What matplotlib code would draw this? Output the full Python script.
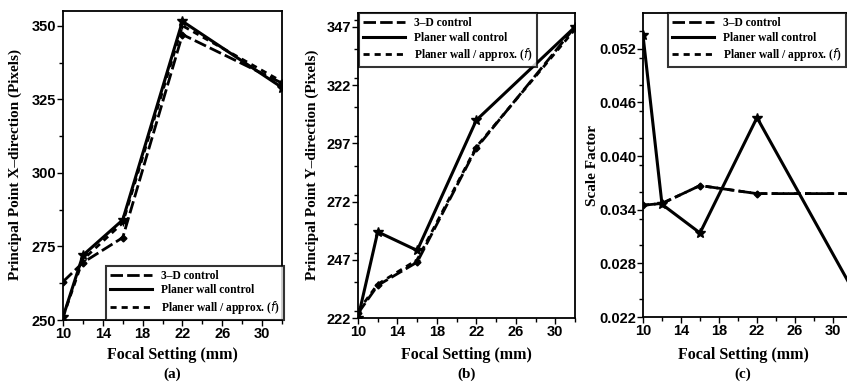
import numpy as np
import matplotlib
matplotlib.use("Agg")
import matplotlib.pyplot as plt
from matplotlib.ticker import MultipleLocator, FixedLocator

# focal settings (mm)
focal = [10, 12, 16, 22, 32]

# (a) principal point x-direction (pixels)
px_3d = [263, 269.5, 278, 347, 330.5]
px_wall = [251, 272, 284, 351.5, 329]
px_approx = [251, 270.5, 283, 350, 331]

# (b) principal point y-direction (pixels)
py_3d = [224, 236, 246, 295, 347]
py_wall = [222, 259, 251, 307, 347]
py_approx = [225, 236.5, 247, 295.5, 346]

# (c) scale factor
sf_3d = [0.0345, 0.0347, 0.0367, 0.0358, 0.0358]
sf_wall = [0.0535, 0.0346, 0.0314, 0.0443, 0.0252]
sf_approx = [0.0345, 0.0347, 0.0367, 0.0358, 0.0358]

labels = ["3\u2013D control", "Planer wall control", "Planer wall / approx. ($f$)"]
xticks = [10, 14, 18, 22, 26, 30]

serif = ["Liberation Serif", "DejaVu Serif"]
narrow = ["Liberation Sans Narrow", "Liberation Sans", "DejaVu Sans"]

W, H = 847, 386
fig = plt.figure(figsize=(W / 100, H / 100), dpi=100)


def box(l, t, r, b):
    return [l / W, 1 - b / H, (r - l) / W, (b - t) / H]


# legend anchors in figure pixels (corner, loc)
panels = [
    dict(pos=box(63, 11, 282, 320), ys=(px_3d, px_wall, px_approx), ylim=(250, 355),
         yt=[250, 275, 300, 325, 350], ystep=12.5, fmt="{:d}",
         ylabel="Principal Point X\u2013direction (Pixels)",
         leg=("lower right", (284, 320)), tag="(a)", lab_x=15),
    dict(pos=box(358, 13, 575, 318), ys=(py_3d, py_wall, py_approx), ylim=(222, 353),
         yt=[222, 247, 272, 297, 322, 347], ystep=12.5, fmt="{:d}",
         ylabel="Principal Point Y\u2013direction (Pixels)",
         leg=("upper left", (359, 13)), tag="(b)", lab_x=312),
    dict(pos=box(643, 13, 852, 317), ys=(sf_3d, sf_wall, sf_approx), ylim=(0.022, 0.056),
         yt=[0.022, 0.028, 0.034, 0.040, 0.046, 0.052], ystep=0.003, fmt="{:.3f}",
         ylabel="Scale Factor", leg=("upper right", (846, 13)), tag="(c)", lab_x=592),
]

for p in panels:
    ax = fig.add_axes(p["pos"])
    s3d, swall, sapp = p["ys"]
    ax.plot(focal, sapp, color="black", lw=2.0, ls=(0, (2.2, 1.8)), marker="+", ms=5,
            label=labels[2], zorder=2)
    ax.plot(focal, s3d, color="black", lw=2.0, ls=(0, (4.5, 1.5)), marker="D", ms=3.5,
            label=labels[0], zorder=3)
    ax.plot(focal, swall, color="black", lw=2.2, ls="-", marker="*", ms=7,
            label=labels[1], zorder=4)

    ax.set_xlim(10, 32)
    ax.set_ylim(*p["ylim"])
    ax.xaxis.set_major_locator(FixedLocator(xticks))
    ax.xaxis.set_minor_locator(MultipleLocator(2))
    ax.yaxis.set_major_locator(FixedLocator(p["yt"]))
    ax.yaxis.set_minor_locator(MultipleLocator(p["ystep"]))
    ax.set_xticklabels([str(v) for v in xticks], family=narrow, weight="bold", fontsize=10.5)
    ax.set_yticklabels([p["fmt"].format(v) for v in p["yt"]], family=narrow,
                       weight="bold", fontsize=10.5)
    ax.tick_params(which="major", length=4, width=1, pad=1)
    ax.tick_params(which="minor", length=3, width=1)
    for sp in ax.spines.values():
        sp.set_linewidth(1.3)

    handles, labs = ax.get_legend_handles_labels()
    order = [1, 2, 0]
    loc, (lx, ly) = p["leg"]
    leg = ax.legend([handles[i] for i in order], [labs[i] for i in order], loc=loc,
                    bbox_to_anchor=(lx / W, 1 - ly / H), bbox_transform=fig.transFigure,
                    prop=dict(family=serif, weight="bold", size=8.3), frameon=True,
                    fancybox=False, edgecolor="black", borderaxespad=0, handlelength=3.6,
                    labelspacing=0.22, borderpad=0.35, handletextpad=0.8)
    leg.get_frame().set_linewidth(1.5)
    for h in leg.legend_handles:
        h.set_marker("")

    # y label
    fig.text(p["lab_x"] / W, 1 - 165 / H, p["ylabel"], rotation=90, ha="center",
             va="center", family=serif, weight="bold", fontsize=11)

    cx = p["pos"][0] + p["pos"][2] / 2
    if p["tag"] == "(c)":
        cx = 743 / W
    fig.text(cx, 1 - 355 / H, "Focal Setting (mm)", ha="center", va="center",
             family=serif, weight="bold", fontsize=11.5)
    fig.text(cx, 1 - 374 / H, p["tag"], ha="center", va="center",
             family=serif, weight="bold", fontsize=11)

fig.savefig("out.png", dpi=100)
